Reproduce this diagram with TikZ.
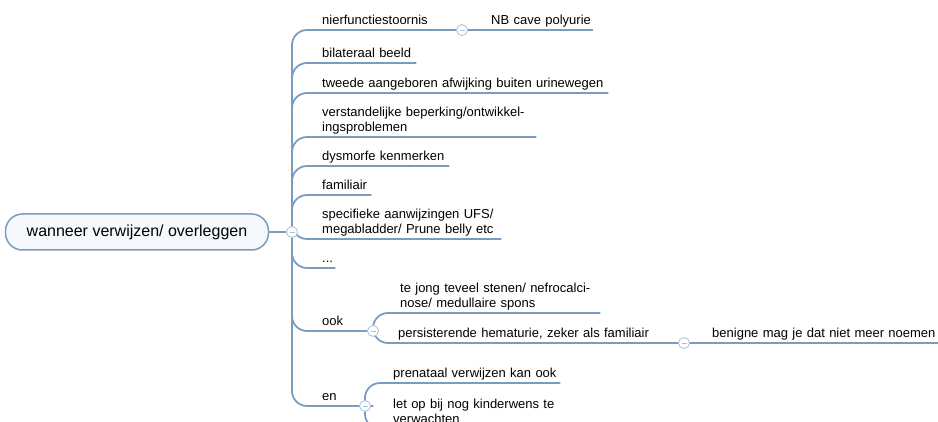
\documentclass[tikz,border=0pt]{standalone}
\usepackage{fontspec}
\setmainfont{Liberation Sans}
\usetikzlibrary{positioning}
\definecolor{mapline}{HTML}{7A9CC1}
\definecolor{mapfill}{HTML}{F6F9FC}
\definecolor{knobline}{HTML}{A9C2DB}

\begin{document}
\begin{tikzpicture}[x=1pt,y=-1pt,
  branch/.style={draw=mapline,line width=1.8pt,rounded corners=15pt},
  leaf/.style={anchor=south west,inner xsep=0pt,inner ysep=0.5pt,align=left,
    font=\fontsize{13}{15}\selectfont,execute at end node=\strut},
  knob/.style={circle,draw=knobline,fill=white,line width=0.8pt,minimum size=11pt,inner sep=0pt,
    path picture={\draw[knobline,line width=0.6pt] (-2.5pt,0) -- (2.5pt,0);}}]
\useasboundingbox (0,0) rectangle (938,422);
\node[draw=mapline,fill=mapfill,line width=1.5pt,rounded corners=17pt,minimum width=263pt,minimum height=36pt,font=\fontsize{16}{19}\selectfont] (root) at (137,232) {wanneer verwijzen/ overleggen};
\coordinate (k0) at (292,232);
\coordinate (k1) at (462,30);
\coordinate (k9) at (373,331);
\coordinate (k9b) at (684,343);
\coordinate (k10) at (365,406);
\node[leaf,text width=132pt] (n1) at (322,30) {nierfunctiestoornis};
\node[leaf,text width=102pt] (n1a) at (491,30) {NB cave polyurie};
\node[leaf,text width=94pt] (n2) at (322,63) {bilateraal beeld};
\node[leaf,text width=286pt] (n3) at (322,93) {tweede aangeboren afwijking buiten urinewegen};
\node[leaf,text width=214pt] (n4) at (322,137) {verstandelijke beperking/ontwikkel-\\ingsproblemen};
\node[leaf,text width=127pt] (n5) at (322,166) {dysmorfe kenmerken};
\node[leaf,text width=49pt] (n6) at (322,195) {familiair};
\node[leaf,text width=179pt] (n7) at (322,239) {specifieke aanwijzingen UFS/\\megabladder/ Prune belly etc};
\node[leaf,text width=13pt] (n8) at (322,268) {...};
\node[leaf,text width=40pt] (n9) at (322,331) {ook};
\node[leaf,text width=200pt] (n9a) at (400,313) {te jong teveel stenen/ nefrocalci-\\nose/ medullaire spons};
\node[leaf,text width=278pt] (n9b) at (398,343) {persisterende hematurie, zeker als familiair};
\node[leaf,text width=226pt] (n9c) at (712,343) {benigne mag je dat niet meer noemen};
\node[leaf,text width=36pt] (n10) at (322,406) {en};
\node[leaf,text width=167pt] (n10a) at (393,383) {prenataal verwijzen kan ook};
\node[leaf,text width=190pt] (n10b) at (393,429) {let op bij nog kinderwens te\\verwachten};
% takken
\draw[branch] (root) -- (k0);
\draw[branch] (k0) |- (n1.south east) -- (k1);
\draw[branch] (k1) -- (n1a.south east);
\foreach \n in {n2,n3,n4,n5,n6,n7,n8}
  \draw[branch] (k0) |- (\n.south east);
\draw[branch] (k0) |- (n9.south east) -- (k9);
\draw[branch] (k9) |- (n9a.south east);
\draw[branch] (k9) |- (n9b.south east) -- (k9b);
\draw[branch] (k9b) -- (n9c.south east);
\draw[branch] (k0) |- (n10.south east) -- (k10);
\draw[branch] (k10) |- (n10a.south east);
\draw[branch] (k10) |- (n10b.south east);
% knopjes
\node[knob] (c0) at (k0) {};
\node[knob] (c1) at (k1) {};
\node[knob] (c9) at (k9) {};
\node[knob] (c9b) at (k9b) {};
\node[knob] (c10) at (k10) {};
\end{tikzpicture}
\end{document}
